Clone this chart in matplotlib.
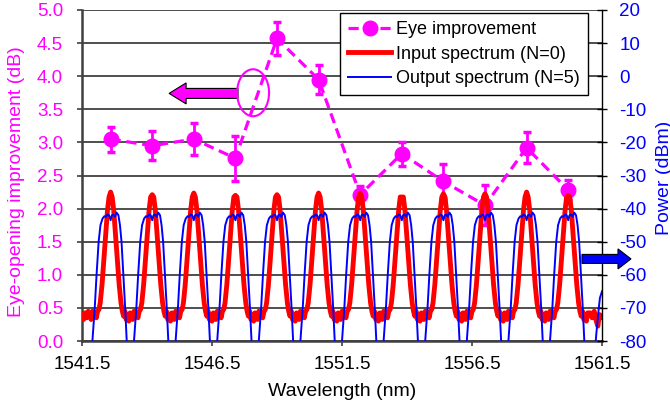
import matplotlib
matplotlib.use("Agg")
import matplotlib.pyplot as plt
from matplotlib.patches import FancyArrow, Ellipse
from matplotlib.lines import Line2D

plt.rcParams["font.family"] = ["Liberation Sans", "DejaVu Sans"]
plt.rcParams["axes.unicode_minus"] = False

# channel grid (nm) and eye-opening improvement (dB) with error bars
channel_nm = [1542.6, 1544.2, 1545.8, 1547.4, 1549.0, 1550.6,
              1552.2, 1553.8, 1555.4, 1557.0, 1558.6, 1560.2]
eye_db = [3.05, 2.95, 3.05, 2.76, 4.57, 3.95, 2.21, 2.83, 2.41, 2.05, 2.92, 2.28]
eye_err = [0.19, 0.22, 0.24, 0.34, 0.25, 0.22, 0.13, 0.18, 0.27, 0.30, 0.23, 0.15]

# input spectrum (N=0): peak level per channel + one channel shape
red_peak_dbm = [-35.0, -35.8, -35.3, -36.0, -35.8, -35.3,
                -35.3, -36.5, -35.5, -35.5, -35.0, -36.0]
red_offset_nm = [-0.80, -0.75, -0.70, -0.65, -0.60, -0.55, -0.50, -0.45, -0.40,
                 -0.33, -0.26, -0.19, -0.12, -0.06, 0.0, 0.06, 0.12, 0.19, 0.26,
                 0.33, 0.40, 0.45, 0.50, 0.55, 0.60, 0.65, 0.70, 0.75]
red_shape_dbm = [-72.0, -73.5, -71.0, -72.5, -71.5, -73.0, -71.0, -70.5, -68.5,
                 -63.0, -55.5, -48.0, -40.5, -36.5, 0.0, -36.5, -40.5, -48.0, -55.5,
                 -63.0, -68.5, -71.0, -72.5, -71.0, -73.5, -72.0, -74.0, -71.5]
red_lead_nm = [1541.50, 1541.56, 1541.62, 1541.68, 1541.74]
red_lead_dbm = [-72.0, -73.5, -71.5, -73.0, -71.0]
red_tail_nm = [1561.05, 1561.12, 1561.20, 1561.28, 1561.34, 1561.40, 1561.46, 1561.50]
red_tail_dbm = [-71.5, -73.0, -71.0, -74.0, -75.5, -72.0, -73.0, -72.5]

# output spectrum (N=5): flat-top passband shape
blue_offset_nm = [-0.80, -0.75, -0.70, -0.61, -0.54, -0.46, -0.39, -0.31, -0.24,
                  -0.18, -0.12, -0.06, 0.0, 0.05, 0.11, 0.17, 0.23, 0.30, 0.36,
                  0.42, 0.49, 0.56, 0.62, 0.69, 0.76]
blue_shape_dbm = [-96, -88, -80, -70, -60, -50, -45, -43, -42.3,
                  -42.5, -41.8, -42.0, -43.5, -42.0, -41.8, -42.5, -41.2, -42.0, -45,
                  -50, -60, -70, -80, -90, -97]
blue_lead_nm = [1541.50]
blue_lead_dbm = [-96]
blue_tail_nm = [1561.15, 1561.22, 1561.28, 1561.35, 1561.42, 1561.50]
blue_tail_dbm = [-96, -84, -78, -72, -67, -65]

x_ticks = [1541.5, 1546.5, 1551.5, 1556.5, 1561.5]

MAG = "#FF00FF"
RED = "#FF0000"
BLUE = "#0000FF"

red_x, red_y = list(red_lead_nm), list(red_lead_dbm)
for c, pk in zip(channel_nm, red_peak_dbm):
    for off, lvl in zip(red_offset_nm, red_shape_dbm):
        red_x.append(c + off)
        red_y.append(pk if off == 0.0 else lvl)
red_x += red_tail_nm
red_y += red_tail_dbm

blue_x, blue_y = list(blue_lead_nm), list(blue_lead_dbm)
for c in channel_nm:
    for off, lvl in zip(blue_offset_nm, blue_shape_dbm):
        blue_x.append(c + off)
        blue_y.append(lvl)
blue_x += blue_tail_nm
blue_y += blue_tail_dbm

W, H = 670, 407
fig = plt.figure(figsize=(W / 100, H / 100), dpi=100)
ax = fig.add_axes([82 / W, 1 - 341 / H, 520 / W, 331 / H])
ax2 = ax.twinx()

dash = (0, (3.2, 1.8))
ax.errorbar(channel_nm, eye_db, yerr=eye_err, color=MAG, ls=dash, lw=2.3,
            marker="o", ms=10.5, elinewidth=2.0, capsize=3, capthick=2.5, zorder=3)

ax2.plot(red_x, red_y, color=RED, lw=3.5, solid_joinstyle="round")
ax2.plot(blue_x, blue_y, color=BLUE, lw=1.4)

ax.set_xlim(1541.5, 1561.5)
ax.set_ylim(0, 5)
ax2.set_ylim(-80, 20)
ax.set_xticks(x_ticks)
ax.set_xticklabels([f"{v:.1f}" for v in x_ticks])
ax.set_yticks([i * 0.5 for i in range(11)])
ax.set_yticklabels([f"{i * 0.5:.1f}" for i in range(11)])
ax2.set_yticks(range(-80, 21, 10))

ax.yaxis.grid(True, color="#303030", lw=1.2)
ax.set_axisbelow(True)

for s in ["top", "right"]:
    ax.spines[s].set_visible(False)
for s in ["left", "bottom"]:
    ax.spines[s].set_color("#404040")
    ax.spines[s].set_linewidth(1.8)
for s in ["left", "top", "bottom"]:
    ax2.spines[s].set_visible(False)
ax2.spines["right"].set_color("black")
ax2.spines["right"].set_linewidth(1.0)

ax.tick_params(axis="y", direction="out", length=3.6, width=1.2, color="#404040",
               labelcolor=MAG, labelsize=13.5, pad=10)
ax.tick_params(axis="x", direction="out", length=3.6, width=1.2, color="#404040",
               labelcolor="black", labelsize=13.5, pad=7)
ax2.tick_params(axis="y", direction="inout", length=7.2, width=1.0, color="black",
                labelcolor=BLUE, labelsize=13.5, pad=9)

# pointer arrows and ellipse
ax.add_patch(FancyArrow(1547.5, 3.74, -2.65, 0, width=0.151, head_width=0.317,
                        head_length=0.654, length_includes_head=True,
                        fc=MAG, ec="black", lw=0.8, zorder=4))
ax.add_patch(Ellipse((1548.08, 3.75), 1.23, 0.71, fill=False, ec=MAG, lw=1.5, zorder=4))
ax2.add_patch(FancyArrow(1560.73, -55.2, 1.885, 0, width=2.72, head_width=6.04,
                         head_length=0.5, length_includes_head=True,
                         fc=BLUE, ec="black", lw=0.8, clip_on=False, zorder=5))

handles = [Line2D([], [], color=MAG, ls=dash, lw=2.3, marker="o", ms=10.5),
           Line2D([], [], color=RED, lw=3.5),
           Line2D([], [], color=BLUE, lw=1.4)]
labels = ["Eye improvement", "Input spectrum (N=0)", "Output spectrum (N=5)"]
leg = ax2.legend(handles, labels, loc="upper left", bbox_to_anchor=(340 / W, 1 - 13 / H),
                 bbox_transform=fig.transFigure, frameon=True, fancybox=False,
                 edgecolor="black", framealpha=1, fontsize=13, handlelength=2.4,
                 handletextpad=0.25, labelspacing=0.42, borderpad=0.45, borderaxespad=0)
leg.get_frame().set_linewidth(1.0)

fig.text(17 / W, 1 - 182 / H, "Eye-opening improvement (dB)", rotation=90,
         ha="center", va="center", color=MAG, fontsize=14)
fig.text(656 / W, 1 - 178 / H, "Power (dBm)", rotation=90,
         ha="left", va="center", color=BLUE, fontsize=14)
fig.text(342 / W, 1 - 391 / H, "Wavelength (nm)", ha="center", va="center",
         color="black", fontsize=14)

fig.savefig("out.png", dpi=100)
